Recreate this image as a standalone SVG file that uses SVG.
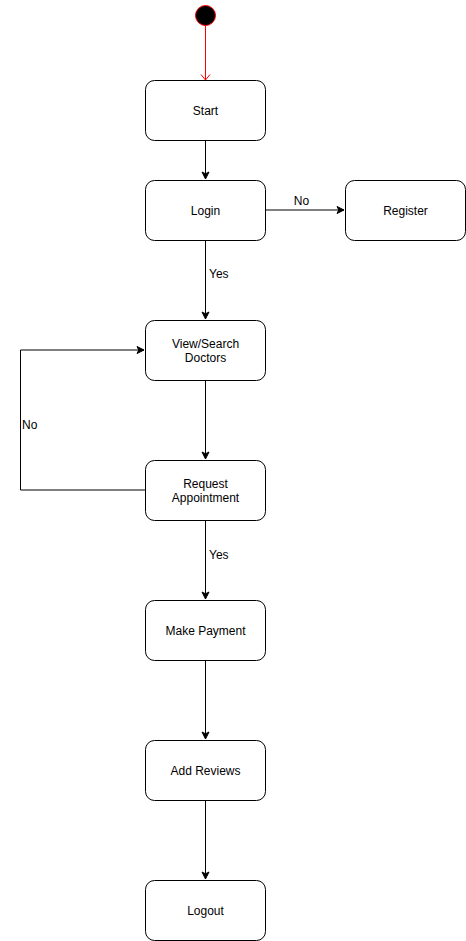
<svg xmlns="http://www.w3.org/2000/svg" width="466" height="941" viewBox="0 0 466 941">
<style>
.n rect{fill:#fff;stroke:#000;stroke-width:1}
text{font-family:"Liberation Sans",Arial,sans-serif;font-size:12px;fill:#000}
.c{text-anchor:middle}
.e{fill:none;stroke:#000;stroke-width:1}
</style>
<defs>
<marker id="a" markerWidth="10" markerHeight="10" refX="8" refY="5" orient="auto" markerUnits="userSpaceOnUse">
<path d="M1,1.5 L8,5 L1,8.5 L2.8,5 Z" fill="#000" stroke="#000" stroke-width="1"/>
</marker>
<marker id="r" markerWidth="12" markerHeight="12" refX="6" refY="6" orient="auto" markerUnits="userSpaceOnUse">
<path d="M0.5,1.5 L6,6 L0.5,10.5" fill="none" stroke="#ff0000" stroke-width="1"/>
</marker>
</defs>
<g id="connectors">
<path d="M205.5,26 V80" fill="none" stroke="#ff0000" marker-end="url(#r)"/>
<path class="e" d="M205.5,140 V179" marker-end="url(#a)"/>
<path class="e" d="M265.5,210 H344" marker-end="url(#a)"/>
<path class="e" d="M205.5,240 V319" marker-end="url(#a)"/>
<path class="e" d="M205.5,380 V459" marker-end="url(#a)"/>
<path class="e" d="M145.5,490 H20.5 V350 H144" marker-end="url(#a)"/>
<path class="e" d="M205.5,520 V599" marker-end="url(#a)"/>
<path class="e" d="M205.5,660 V739" marker-end="url(#a)"/>
<path class="e" d="M205.5,800 V879" marker-end="url(#a)"/>
<text x="301.5" y="205" class="c">No</text>
<text x="209" y="278">Yes</text>
<text x="22" y="429">No</text>
<text x="209" y="559">Yes</text>
</g>
<g id="initial"><circle cx="205.5" cy="15.5" r="10" fill="#000" stroke="#ff0000" stroke-width="1"/></g>
<g id="start" class="n"><rect x="145.5" y="80.5" width="120" height="60" rx="9"/><text x="205.5" y="114.5" class="c">Start</text></g>
<g id="login" class="n"><rect x="145.5" y="180.5" width="120" height="60" rx="9"/><text x="205.5" y="214.5" class="c">Login</text></g>
<g id="register" class="n"><rect x="345.5" y="180.5" width="120" height="60" rx="9"/><text x="405.5" y="214.5" class="c">Register</text></g>
<g id="view" class="n"><rect x="145.5" y="320.5" width="120" height="60" rx="9"/><text x="205.5" y="347.5" class="c">View/Search</text><text x="205.5" y="362" class="c">Doctors</text></g>
<g id="request" class="n"><rect x="145.5" y="460.5" width="120" height="60" rx="9"/><text x="205.5" y="487.5" class="c">Request</text><text x="205.5" y="502" class="c">Appointment</text></g>
<g id="payment" class="n"><rect x="145.5" y="600.5" width="120" height="60" rx="9"/><text x="205.5" y="634.5" class="c">Make Payment</text></g>
<g id="reviews" class="n"><rect x="145.5" y="740.5" width="120" height="60" rx="9"/><text x="205.5" y="774.5" class="c">Add Reviews</text></g>
<g id="logout" class="n"><rect x="145.5" y="880.5" width="120" height="60" rx="9"/><text x="205.5" y="914.5" class="c">Logout</text></g>
</svg>
